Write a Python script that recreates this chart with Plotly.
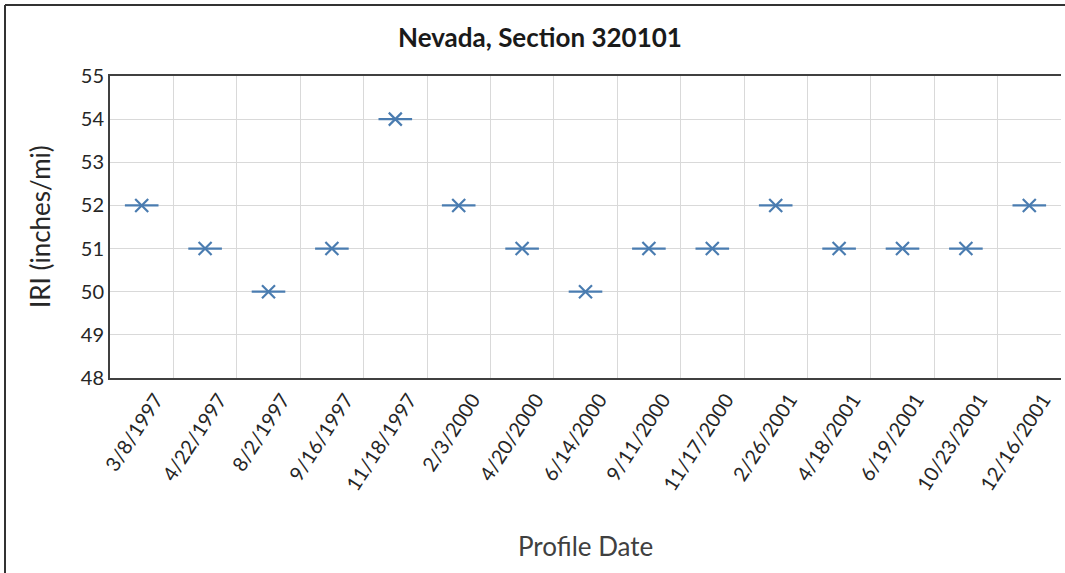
import plotly.graph_objects as go

dates = ["3/8/1997", "4/22/1997", "8/2/1997", "9/16/1997", "11/18/1997",
         "2/3/2000", "4/20/2000", "6/14/2000", "9/11/2000", "11/17/2000",
         "2/26/2001", "4/18/2001", "6/19/2001", "10/23/2001", "12/16/2001"]
iri = [52, 51, 50, 51, 54, 52, 51, 50, 51, 51, 52, 51, 51, 51, 52]
y_ticks = [48, 49, 50, 51, 52, 53, 54, 55]

W, H = 1065, 573
L, R, T, B = 110, 4, 76, 195
pw, ph = W - L - R, H - T - B
FONT = "Lato, 'Open Sans', sans-serif"
BLUE = "#4a7cb0"

fig = go.Figure()
fig.add_trace(go.Scatter(x=dates, y=iri, mode="markers",
                         marker=dict(symbol="line-ew-open", size=24, color=BLUE,
                                     line=dict(color=BLUE, width=2.2)),
                         hoverinfo="skip", showlegend=False))
fig.add_trace(go.Scatter(x=dates, y=iri, mode="markers",
                         marker=dict(symbol="x-thin-open", size=13, color=BLUE,
                                     line=dict(color=BLUE, width=2.2)),
                         showlegend=False))

fig.update_layout(
    width=W, height=H,
    margin=dict(l=L, r=R, t=T, b=B),
    paper_bgcolor="white", plot_bgcolor="white",
    font=dict(family=FONT, color="#262626"),
    title=dict(text="<b>Nevada, Section 320101</b>", x=0.507, xref="container",
               y=1 - 38 / H, yref="container", xanchor="center", yanchor="middle",
               font=dict(size=26, color="#1a1a1a")),
    xaxis=dict(type="category", range=[-0.5, 14.5], tickson="boundaries",
               showgrid=True, gridcolor="#d9d9d9", gridwidth=1,
               ticks="", tickangle=-57, ticklabelshift=14,
               tickfont=dict(size=20, color="#262626"),
               showline=True, linecolor="#404040", linewidth=2, mirror=True,
               zeroline=False),
    yaxis=dict(range=[48, 55], tickvals=y_ticks, showgrid=True,
               gridcolor="#d9d9d9", gridwidth=1, ticks="",
               tickfont=dict(size=20, color="#262626"),
               showline=True, linecolor="#404040", linewidth=2,
               zeroline=False),
    annotations=[
        dict(text="IRI (inches/mi)", x=(40 - L) / pw, y=0.5, xref="paper", yref="paper",
             textangle=-90, showarrow=False, xanchor="center", yanchor="middle",
             font=dict(size=26, color="#262626")),
        dict(text="Profile Date", x=0.5, y=-(546 - T - ph) / ph, xref="paper", yref="paper",
             showarrow=False, xanchor="center", yanchor="middle",
             font=dict(size=26, color="#404040")),
    ],
    shapes=[
        dict(type="line", xref="paper", yref="paper",
             x0=(5 - L) / pw, x1=(W - L) / pw, y0=1 + (T - 5) / ph, y1=1 + (T - 5) / ph,
             line=dict(color="#333333", width=2)),
        dict(type="line", xref="paper", yref="paper",
             x0=(5 - L) / pw, x1=(5 - L) / pw, y0=1 + (T - 5) / ph, y1=-(H - T - ph) / ph,
             line=dict(color="#333333", width=2)),
    ],
)

fig.write_html("out.html", config={"displayModeBar": False},
               post_script="document.body.style.margin='0';document.body.style.padding='0';")
